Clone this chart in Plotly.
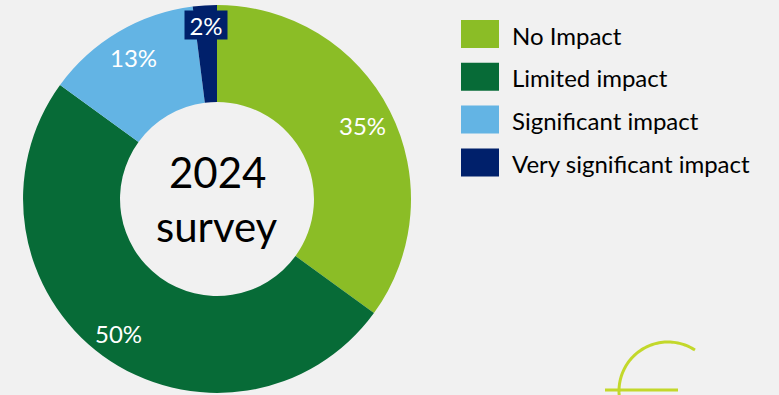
import numpy as np
import plotly.graph_objects as go

# ---- data ----
labels = ["No Impact", "Limited impact", "Significant impact", "Very significant impact"]
values = [35, 50, 13, 2]
center_lines = ["2024", "survey"]

# ---- style ----
colors = ["#8BBD26", "#076B37", "#63B4E4", "#00206B"]
W, H = 779, 395
BG = "#f1f1f1"
FONT = "Lato"
label_rfrac = [0.84, 0.86, 0.85, 0.90]   # label distance as fraction of outer radius

cx, cy, R = 217, 199, 194  # donut centre / radius in pixels


def px(x):
    return x / W


def py(y):
    return 1 - y / H


fig = go.Figure()
fig.add_trace(go.Pie(
    labels=labels, values=values, marker=dict(colors=colors, line=dict(width=0)),
    hole=0.5, sort=False, direction="clockwise", rotation=0,
    textinfo="none", hoverinfo="label+percent", showlegend=False,
    domain=dict(x=[px(cx - R), px(cx + R)], y=[py(cy + R), py(cy - R)]),
))

annotations = []
# slice percentage labels placed at the middle angle of each slice
tot = sum(values)
cum = np.cumsum([0] + values[:-1])
for i, v in enumerate(values):
    mid = (cum[i] + v / 2) / tot * 2 * np.pi
    r = label_rfrac[i] * R
    x = cx + r * np.sin(mid)
    y = cy - r * np.cos(mid)
    pct = f"{round(v / tot * 100)}%"
    a = dict(x=px(x), y=py(y), xref="paper", yref="paper", text=pct, showarrow=False,
             font=dict(family=FONT, size=24, color="white"), xanchor="center", yanchor="middle")
    if i == len(values) - 1:
        a.update(bgcolor=colors[i], borderpad=2, width=38, height=24)
    annotations.append(a)

# centre text
annotations.append(dict(x=px(cx), y=py(172), xref="paper", yref="paper", text=center_lines[0],
                        showarrow=False, font=dict(family=FONT, size=42, color="black"),
                        xanchor="center", yanchor="middle"))
annotations.append(dict(x=px(cx), y=py(226), xref="paper", yref="paper", text=center_lines[1],
                        showarrow=False, font=dict(family=FONT, size=42, color="black"),
                        xanchor="center", yanchor="middle"))

# manual legend
shapes = []
leg_x0, leg_w, leg_h = 461, 38, 28
leg_y0, leg_dy = 34, 42.8
for i, lab in enumerate(labels):
    yc = leg_y0 + i * leg_dy
    shapes.append(dict(type="rect", xref="paper", yref="paper",
                       x0=px(leg_x0), x1=px(leg_x0 + leg_w),
                       y0=py(yc + leg_h / 2), y1=py(yc - leg_h / 2),
                       fillcolor=colors[i], line=dict(width=0)))
    annotations.append(dict(x=px(510), y=py(yc + 1), xref="paper", yref="paper", text=lab,
                            showarrow=False, font=dict(family=FONT, size=24, color="black"),
                            xanchor="left", yanchor="middle"))

# decorative arc bottom right
ac, ar = (668, 391), 49
th = np.linspace(np.radians(186), np.radians(56.6), 60)
pts = [(ac[0] + ar * np.cos(t), ac[1] - ar * np.sin(t)) for t in th]
path = "M " + " L ".join(f"{px(x):.5f},{py(y):.5f}" for x, y in pts)
shapes.append(dict(type="path", xref="paper", yref="paper", path=path,
                   line=dict(color="#C3D82B", width=3)))
shapes.append(dict(type="line", xref="paper", yref="paper", x0=px(605), x1=px(678),
                   y0=py(390), y1=py(390), line=dict(color="#C3D82B", width=3)))

fig.update_layout(
    width=W, height=H, margin=dict(l=0, r=0, t=0, b=0),
    paper_bgcolor=BG, plot_bgcolor=BG,
    annotations=annotations, shapes=shapes,
)
fig.write_html("out.html")
